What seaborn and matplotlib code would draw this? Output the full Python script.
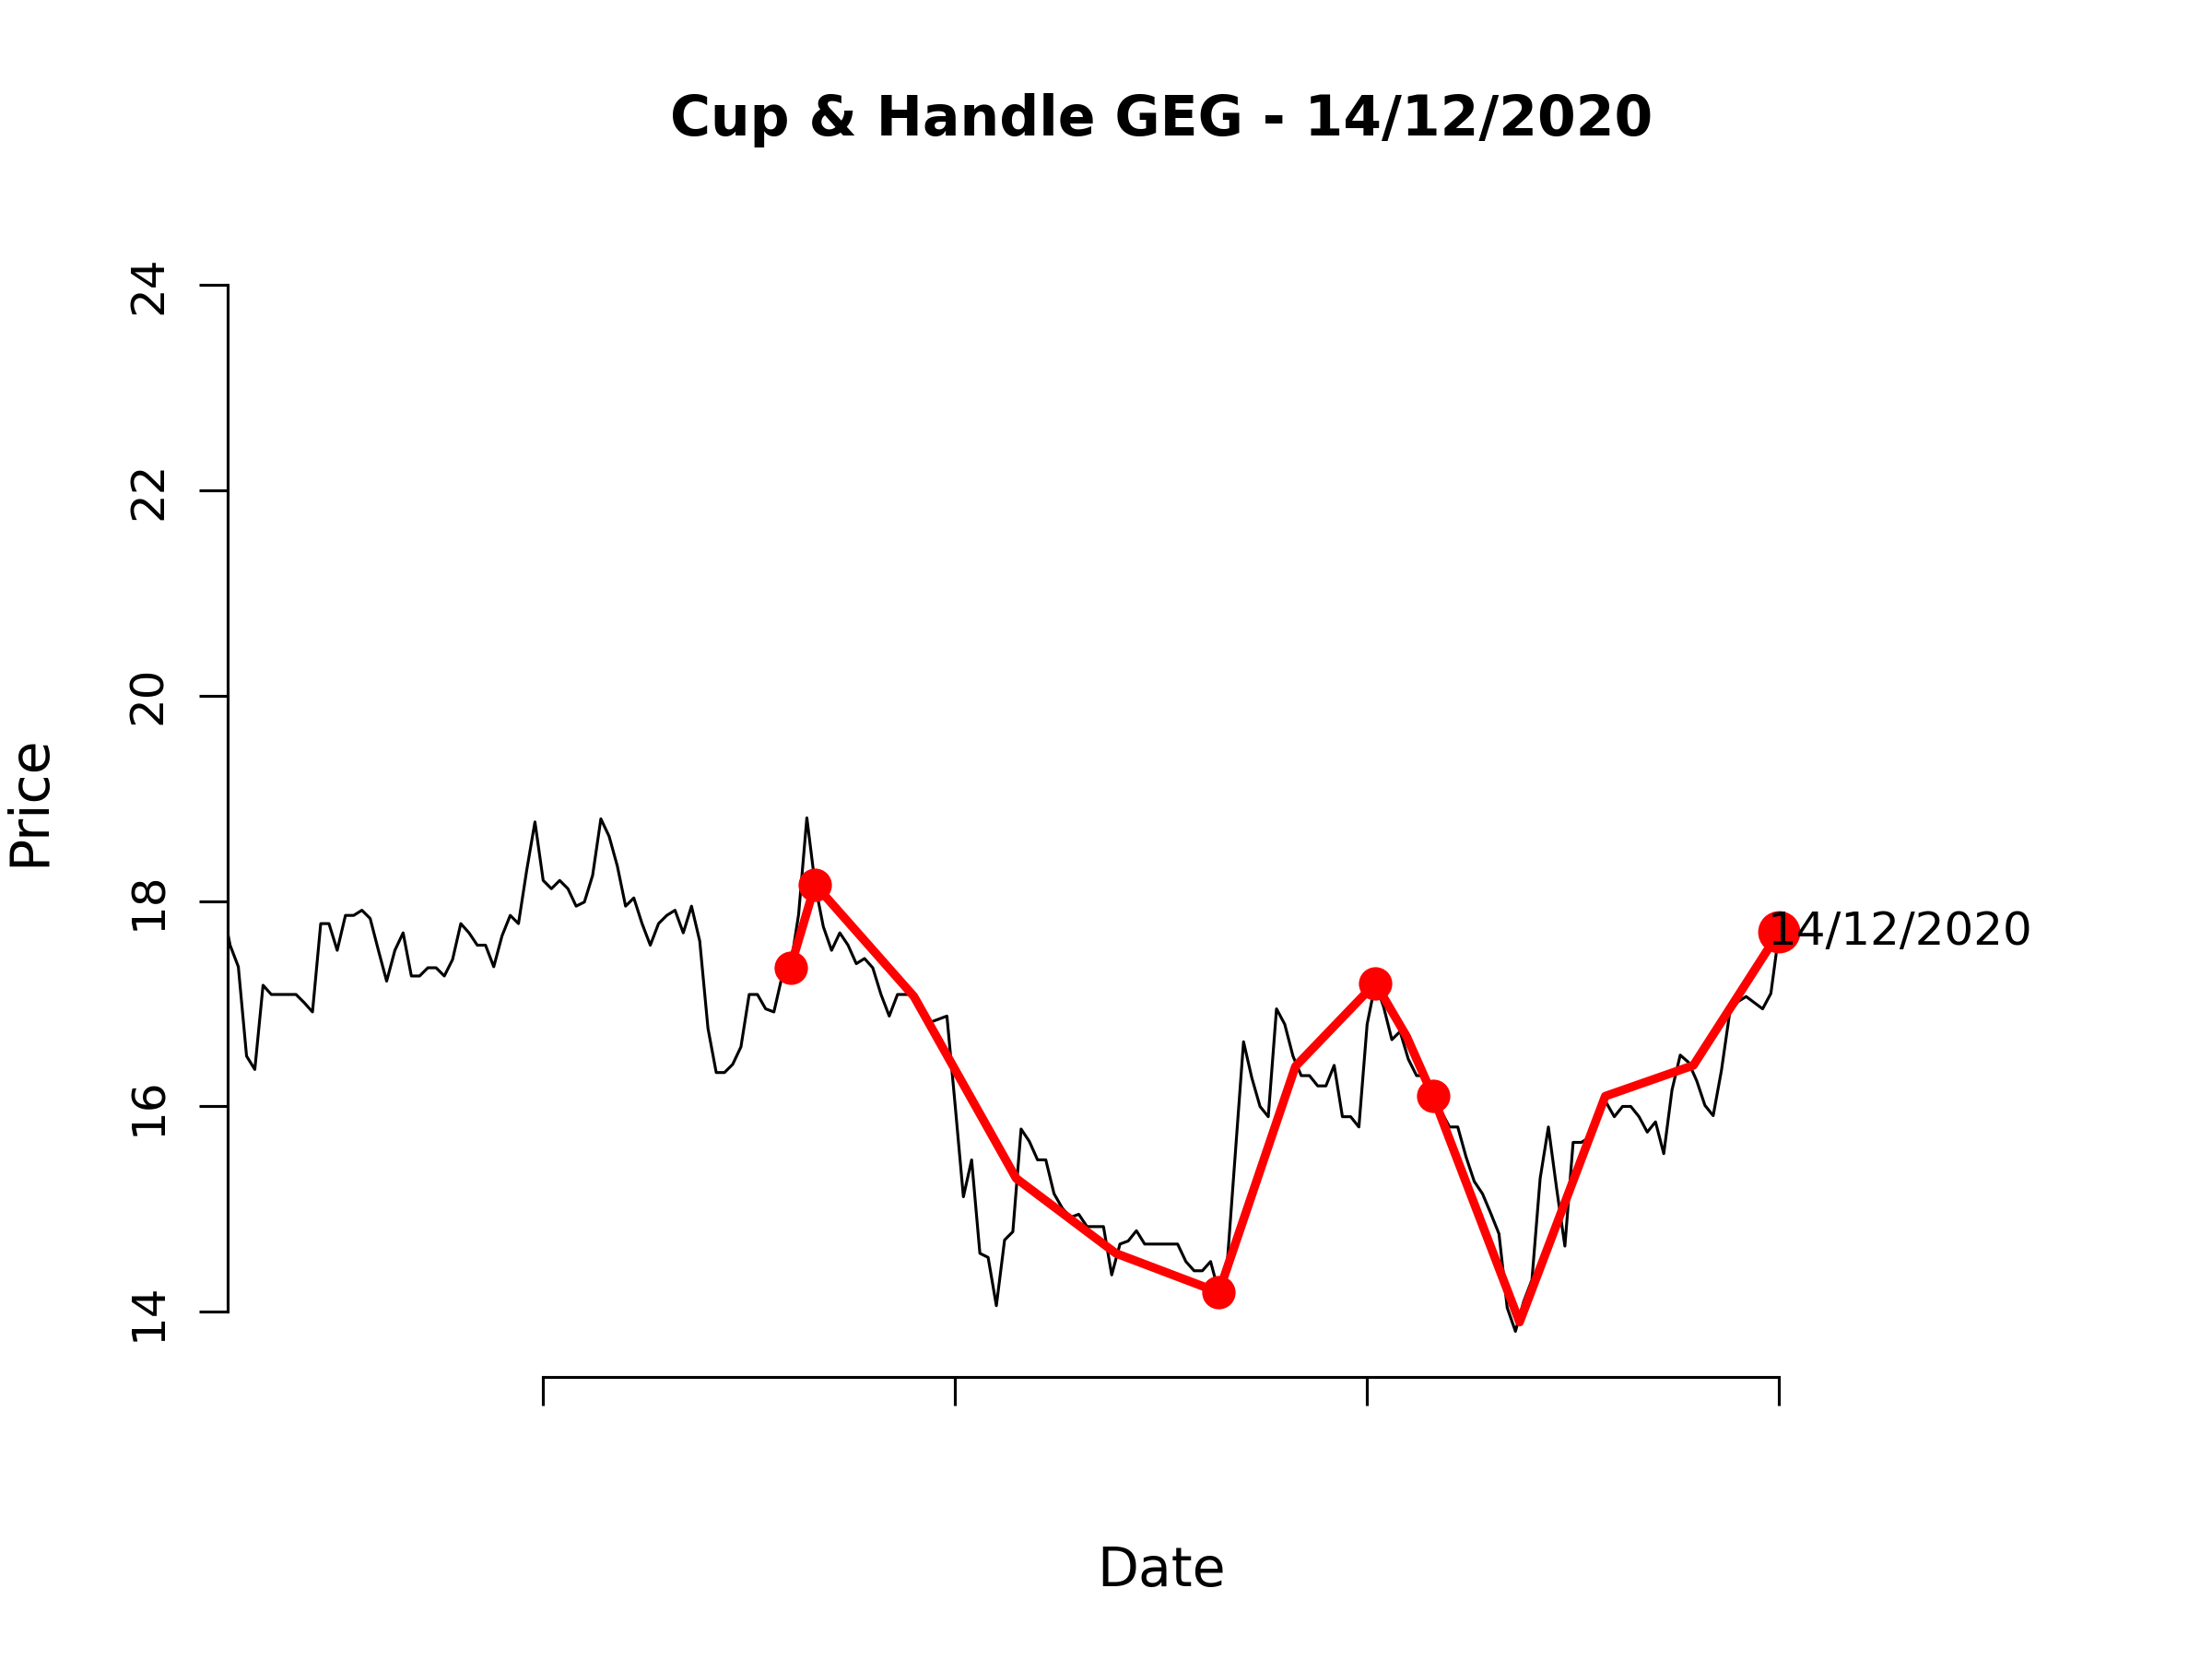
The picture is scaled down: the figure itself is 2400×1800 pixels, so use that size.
import matplotlib
matplotlib.use("Agg")
import matplotlib.pyplot as plt
import pandas as pd
import seaborn as sns

# Daily closes (trading-day index -1 .. 188); the first one sits just left of the window
price = [17.98,
         17.57, 17.36, 16.49, 16.36, 17.18, 17.09, 17.09, 17.09, 17.09, 17.01,
         16.92, 17.78, 17.78, 17.52, 17.86, 17.86, 17.91, 17.83, 17.52, 17.22,
         17.52, 17.69, 17.27, 17.27, 17.35, 17.35, 17.27, 17.43, 17.78, 17.69,
         17.57, 17.57, 17.36, 17.66, 17.86, 17.78, 18.30, 18.77, 18.20, 18.12,
         18.20, 18.12, 17.95, 17.99, 18.25, 18.80, 18.63, 18.34, 17.95, 18.03,
         17.78, 17.57, 17.78, 17.86, 17.91, 17.69, 17.95, 17.61, 16.76, 16.33,
         16.33, 16.41, 16.58, 17.09, 17.09, 16.95, 16.92, 17.27, 17.35, 17.87,
         18.81, 18.16, 17.75, 17.52, 17.69, 17.57, 17.39, 17.44, 17.35, 17.09,
         16.88, 17.09, 17.09, 17.09, 16.94, 16.82, 16.85, 16.88, 16.01, 15.12,
         15.48, 14.57, 14.53, 14.06, 14.70, 14.78, 15.78, 15.66, 15.48, 15.48,
         15.15, 15.01, 14.92, 14.95, 14.83, 14.83, 14.83, 14.36, 14.66, 14.69,
         14.79, 14.66, 14.66, 14.66, 14.66, 14.66, 14.49, 14.40, 14.40, 14.49,
         14.19, 14.45, 15.54, 16.63, 16.28, 16.00, 15.90, 16.95, 16.80, 16.49,
         16.30, 16.30, 16.20, 16.20, 16.40, 15.90, 15.90, 15.80, 16.80, 17.20,
         16.97, 16.65, 16.73, 16.46, 16.30, 16.30, 16.10, 15.95, 15.80, 15.80,
         15.51, 15.27, 15.15, 14.96, 14.76, 14.04, 13.81, 14.10, 14.31, 15.30,
         15.80, 15.20, 14.64, 15.65, 15.65, 15.70, 15.95, 16.04, 15.90, 16.00,
         16.00, 15.90, 15.75, 15.85, 15.54, 16.16, 16.50, 16.43, 16.25, 16.01,
         15.91, 16.35, 16.91, 17.02, 17.07, 17.01, 16.95, 17.10, 17.70]
day = list(range(-1, len(price) - 1))

# cup & handle pattern line
pivot_day = [68, 71, 83, 95.4, 107.5, 120, 129.3, 139, 142.8, 146, 156.5, 166.9, 177.6, 188]
pivot_price = [17.35, 18.16, 17.07, 15.30, 14.57, 14.19, 16.39, 17.20, 16.68, 16.10,
               13.90, 16.10, 16.40, 17.70]

# pivots marked with a dot
marked_day = [68, 71, 120, 139, 146]
marked_price = [17.35, 18.16, 14.19, 17.20, 16.10]
last_day = 188
last_price = 17.70
last_label = "14/12/2020"
ticker = "GEG"

date_ticks = [38, 88, 138, 188]
price_ticks = [14, 16, 18, 20, 22, 24]

df = pd.DataFrame({"day": day, "price": price})
pattern = pd.DataFrame({"day": pivot_day, "price": pivot_price})
marks = pd.DataFrame({"day": marked_day, "price": marked_price})

sns.set_style("ticks", {"axes.edgecolor": "black", "xtick.color": "black",
                        "ytick.color": "black", "text.color": "black",
                        "axes.labelcolor": "black"})
plt.rcParams["font.family"] = ["DejaVu Sans"]

fig = plt.figure(figsize=(8, 6), dpi=300)
ax_left, ax_right = 246.7 / 2400, 2273.6 / 2400
ax = fig.add_axes([ax_left, 306 / 1800, ax_right - ax_left, (1494 - 245) / 1800])

sns.lineplot(data=df, x="day", y="price", color="black", linewidth=0.75,
             estimator=None, sort=False, ax=ax)
sns.lineplot(data=pattern, x="day", y="price", color="red", linewidth=2.25,
             estimator=None, sort=False, ax=ax)
sns.scatterplot(data=marks, x="day", y="price", color="red", s=8.7 ** 2,
                linewidth=0, ax=ax, zorder=3)
ax.plot([last_day], [last_price], "o", color="red", markersize=11, markeredgewidth=0, zorder=3)
ax.annotate(last_label, (last_day, last_price), xytext=(-3, 0), textcoords="offset points",
            fontsize=12, ha="left", va="center", zorder=4, annotation_clip=False)

ax.set_xlim(-0.33, 226.4)
ax.set_ylim(13.366, 24.574)

ax.set_xticks(date_ticks)
ax.set_xticklabels([])
ax.set_yticks(price_ticks)
ax.set_yticklabels([str(t) for t in price_ticks], rotation=90, va="center", fontsize=12)
ax.tick_params(axis="both", direction="out", length=7.4, width=0.75, pad=7.4)

sns.despine(ax=ax)
ax.spines["left"].set_bounds(14, 24)
ax.spines["bottom"].set_bounds(38, 188)
ax.spines["left"].set_linewidth(0.75)
ax.spines["bottom"].set_linewidth(0.75)

ax.set_title(f"Cup & Handle {ticker} - {last_label}", fontsize=14.4, fontweight="bold", pad=23.4)
ax.set_xlabel("Date", fontsize=14, va="center")
ax.xaxis.set_label_coords((ax_left + ax_right) / 2, 1 - 1705 / 1800, transform=fig.transFigure)
ax.set_ylabel("Price", fontsize=14, va="center")
ax.yaxis.set_label_coords(32 / 2400, 1 - 869 / 1800, transform=fig.transFigure)

fig.savefig("out.png", dpi=300, facecolor="white")
